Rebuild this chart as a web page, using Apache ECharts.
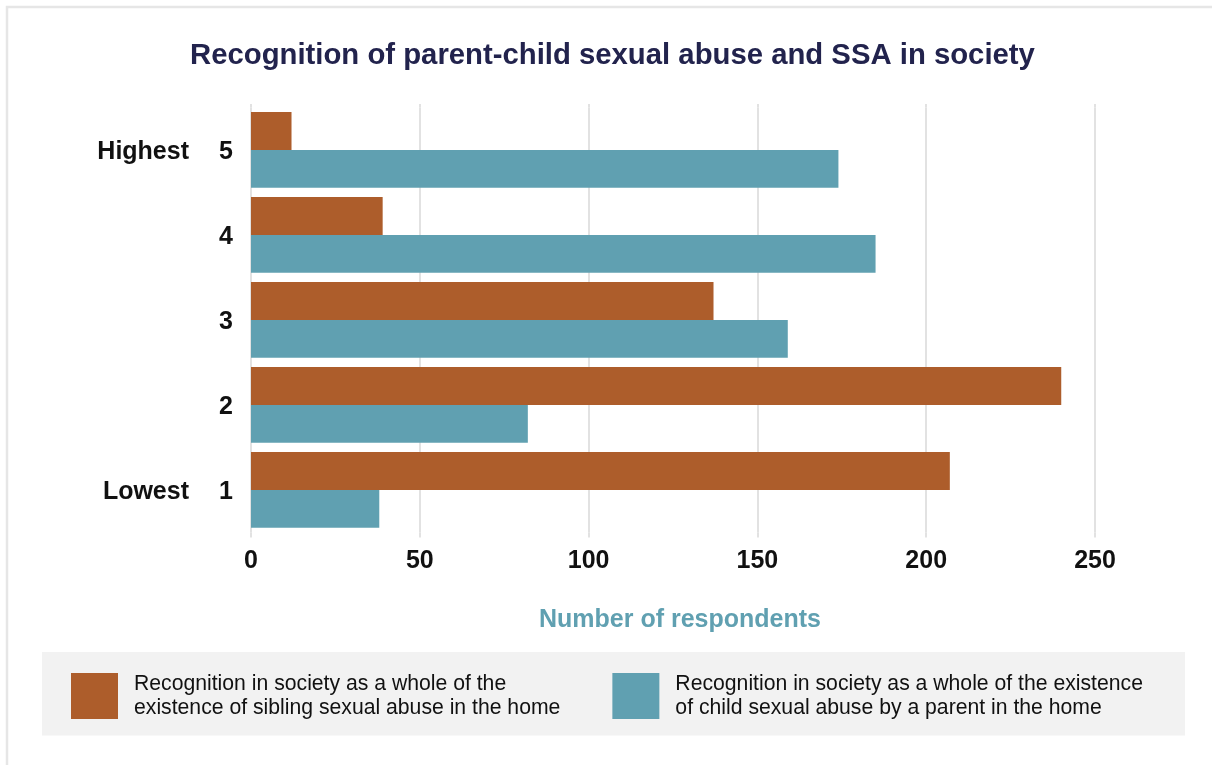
<!DOCTYPE html>
<html>
<head>
<meta charset="utf-8">
<title>Recognition of parent-child sexual abuse and SSA in society</title>
<script src="https://cdn.jsdelivr.net/npm/echarts@6/dist/echarts.min.js"></script>
<style>
  html, body { margin: 0; padding: 0; background: #ffffff; }
  #chart { width: 1212px; height: 765px; }
</style>
</head>
<body>
<div id="chart"></div>
<script>
// Recognition rating (1 = lowest, 5 = highest), listed bottom to top
const ratings = ['1', '2', '3', '4', '5'];
const ratingWords = { '5': 'Highest', '1': 'Lowest' };

// Number of respondents per rating
const siblingAbuse = [207, 240, 137, 39, 12];
const parentAbuse = [38, 82, 159, 185, 174];

const seriesNames = [
  'Recognition in society as a whole of the existence of sibling sexual abuse in the home',
  'Recognition in society as a whole of the existence of child sexual abuse by a parent in the home'
];
const legendLines = {
  [seriesNames[0]]: 'Recognition in society as a whole of the\nexistence of sibling sexual abuse in the home',
  [seriesNames[1]]: 'Recognition in society as a whole of the existence\nof child sexual abuse by a parent in the home'
};

const xTicks = { min: 0, max: 250, interval: 50 };

const FONT = '"Liberation Sans", Arial, Helvetica, sans-serif';
const ORANGE = '#ad5d2b';
const TEAL = '#60a0b1';
const GRID = '#d9d9d9';

const chart = echarts.init(document.getElementById('chart'), null, { renderer: 'canvas' });

chart.setOption({
  backgroundColor: '#ffffff',
  animation: false,
  title: {
    text: 'Recognition of parent-child sexual abuse and SSA in society',
    left: 190,
    top: 41,
    padding: 0,
    textStyle: { fontFamily: FONT, fontSize: 29.3, fontWeight: 'bold', color: '#22234d' }
  },
  graphic: [
    {
      type: 'rect',
      silent: true,
      z: -10,
      shape: { x: 7, y: 7, width: 1240, height: 800 },
      style: { fill: 'none', stroke: '#e6e6e6', lineWidth: 2.5 }
    },
    {
      type: 'rect',
      silent: true,
      z: -5,
      shape: { x: 42, y: 652, width: 1143, height: 83.5 },
      style: { fill: '#f2f2f2' }
    }
  ],
  legend: {
    data: seriesNames,
    left: 66,
    top: 667,
    orient: 'horizontal',
    itemWidth: 47,
    itemHeight: 46,
    itemGap: 52,
    icon: 'rect',
    selectedMode: false,
    formatter: name => legendLines[name],
    textStyle: {
      fontFamily: FONT,
      fontSize: 21.2,
      lineHeight: 24,
      color: '#111111',
      padding: [0, 0, 0, 11]
    }
  },
  grid: {
    left: 251,
    right: 117,
    top: 107.4,
    bottom: 232.6,
    containLabel: false
  },
  xAxis: [
    {
      type: 'value',
      position: 'bottom',
      min: xTicks.min,
      max: xTicks.max,
      interval: xTicks.interval,
      axisLine: { show: false },
      axisTick: { show: true, length: 5, lineStyle: { color: GRID, width: 1.5 } },
      splitLine: { show: true, lineStyle: { color: GRID, width: 1.5 } },
      axisLabel: {
        margin: 16,
        fontFamily: FONT,
        fontSize: 25,
        fontWeight: 'bold',
        color: '#111111'
      },
      name: 'Number of respondents',
      nameLocation: 'middle',
      nameGap: 75,
      nameTextStyle: {
        fontFamily: FONT,
        fontSize: 25,
        fontWeight: 'bold',
        color: TEAL,
        padding: [0, 0, 0, 14]
      }
    },
    {
      type: 'value',
      position: 'top',
      min: xTicks.min,
      max: xTicks.max,
      interval: xTicks.interval,
      axisLine: { show: false },
      axisTick: { show: true, length: 3.5, lineStyle: { color: GRID, width: 1.5 } },
      splitLine: { show: false },
      axisLabel: { show: false }
    }
  ],
  yAxis: {
    type: 'category',
    data: ratings,
    axisLine: { show: false },
    axisTick: { show: false },
    axisLabel: {
      margin: 18,
      align: 'right',
      padding: [5, 0, 0, 0],
      formatter: v => '{w|' + (ratingWords[v] || '') + '}{n|' + v + '}',
      rich: {
        w: { fontFamily: FONT, fontSize: 25, fontWeight: 'bold', color: '#111111', align: 'right' },
        n: { fontFamily: FONT, fontSize: 25, fontWeight: 'bold', color: '#111111', width: 44, align: 'right' }
      }
    }
  },
  series: [
    {
      name: seriesNames[0],
      type: 'bar',
      data: siblingAbuse,
      itemStyle: { color: ORANGE },
      barGap: '0%',
      barCategoryGap: '11%'
    },
    {
      name: seriesNames[1],
      type: 'bar',
      data: parentAbuse,
      itemStyle: { color: TEAL },
      barGap: '0%',
      barCategoryGap: '11%'
    }
  ]
});
</script>
</body>
</html>
